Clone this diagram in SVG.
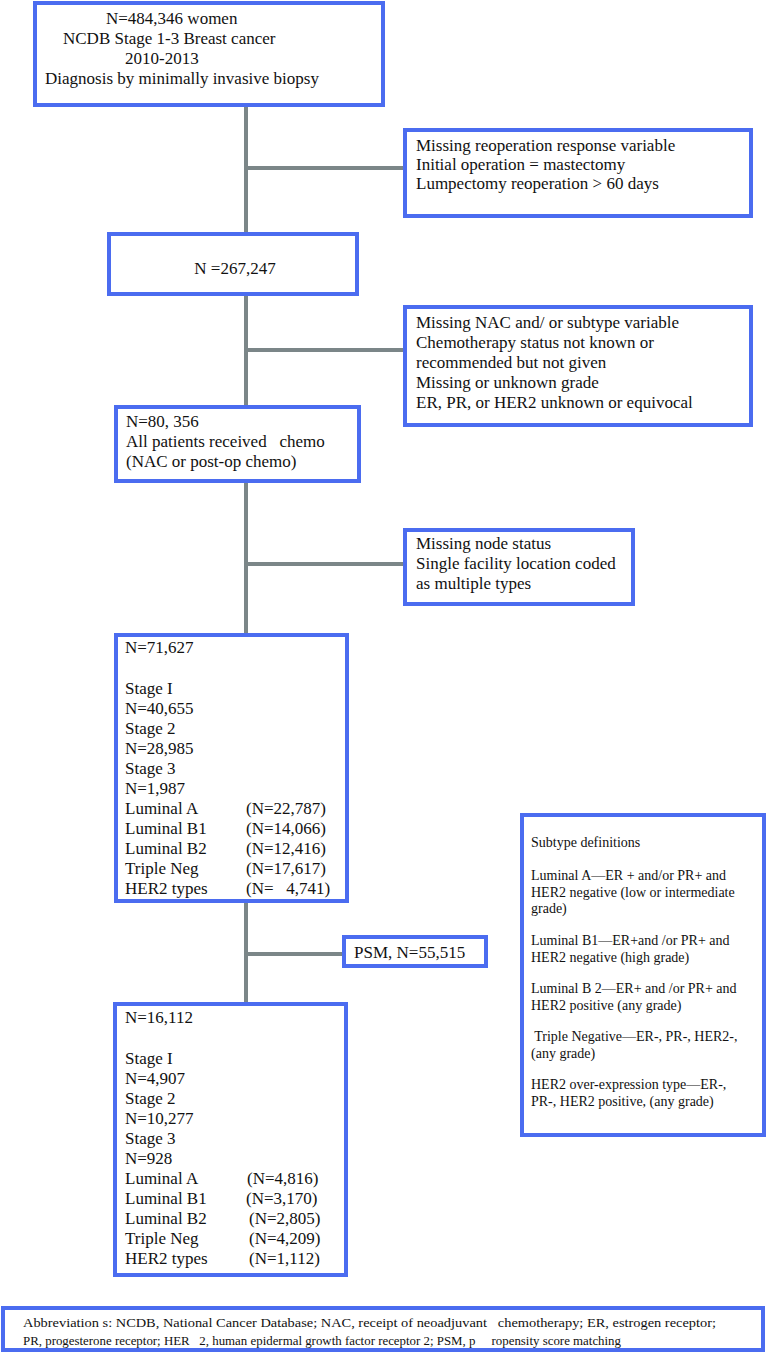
<svg xmlns="http://www.w3.org/2000/svg" width="769" height="1359" viewBox="0 0 769 1359">
<style>
.box{fill:#fff;stroke:#4b6cf0;stroke-width:4}
.con{stroke:#7b8688;stroke-width:4;fill:none}
text{font-family:"Liberation Serif","Times New Roman",serif;fill:#111}
.t{font-size:17px}
.s{font-size:14px}
.a{font-size:13px}
</style>
<rect width="769" height="1359" fill="#fff"/>
<g id="connectors">
<line class="con" x1="246" y1="107" x2="246" y2="232"/>
<line class="con" x1="246" y1="168" x2="403" y2="168"/>
<line class="con" x1="246" y1="296" x2="246" y2="405"/>
<line class="con" x1="246" y1="350" x2="403" y2="350"/>
<line class="con" x1="246" y1="483" x2="246" y2="633"/>
<line class="con" x1="246" y1="564" x2="403" y2="564"/>
<line class="con" x1="246" y1="903" x2="246" y2="1002"/>
<line class="con" x1="246" y1="954" x2="342" y2="954"/>
</g>
<g id="n1">
<rect class="box" x="35" y="3" width="348" height="102"/>
<text class="t" x="106" y="24">N=484,346 women</text>
<text class="t" x="63" y="44">NCDB Stage 1-3 Breast cancer</text>
<text class="t" x="125" y="64">2010-2013</text>
<text class="t" x="45" y="84">Diagnosis  by minimally invasive biopsy</text>
</g>
<g id="n2">
<rect class="box" x="405" y="130" width="346" height="86"/>
<text class="t" x="416" y="151">Missing reoperation response variable</text>
<text class="t" x="416" y="170">Initial operation = mastectomy</text>
<text class="t" x="416" y="189">Lumpectomy reoperation &gt; 60 days</text>
</g>
<g id="n3">
<rect class="box" x="109" y="234" width="248" height="60"/>
<text class="t" x="235" y="274" text-anchor="middle">N =267,247</text>
</g>
<g id="n4">
<rect class="box" x="405" y="307" width="346" height="118"/>
<text class="t" x="416" y="328">Missing NAC and/ or subtype variable</text>
<text class="t" x="416" y="348">Chemotherapy status not known or</text>
<text class="t" x="416" y="368">recommended but not given</text>
<text class="t" x="416" y="388">Missing or unknown grade</text>
<text class="t" x="416" y="408">ER, PR, or HER2 unknown or equivocal</text>
</g>
<g id="n5">
<rect class="box" x="116" y="407" width="243" height="74"/>
<text class="t" x="126" y="427">N=80, 356</text>
<text class="t" x="126" y="447" xml:space="preserve">All patients received   chemo</text>
<text class="t" x="126" y="467">(NAC or post-op chemo)</text>
</g>
<g id="n6">
<rect class="box" x="405" y="530" width="228" height="74"/>
<text class="t" x="416" y="549">Missing node status</text>
<text class="t" x="416" y="569">Single facility location coded</text>
<text class="t" x="416" y="589">as multiple types</text>
</g>
<g id="n7">
<rect class="box" x="116" y="635" width="231" height="266"/>
<text class="t" x="125" y="653">N=71,627</text>
<text class="t" x="125" y="694">Stage I</text>
<text class="t" x="125" y="714">N=40,655</text>
<text class="t" x="125" y="734">Stage 2</text>
<text class="t" x="125" y="754">N=28,985</text>
<text class="t" x="125" y="774">Stage 3</text>
<text class="t" x="125" y="794">N=1,987</text>
<text class="t" x="125" y="814">Luminal A</text>
<text class="t" x="125" y="834">Luminal B1</text>
<text class="t" x="125" y="854">Luminal B2</text>
<text class="t" x="125" y="874">Triple Neg</text>
<text class="t" x="125" y="894">HER2 types</text>
<text class="t" x="246" y="814">(N=22,787)</text>
<text class="t" x="246" y="834">(N=14,066)</text>
<text class="t" x="246" y="854">(N=12,416)</text>
<text class="t" x="246" y="874">(N=17,617)</text>
<text class="t" x="246" y="894" xml:space="preserve">(N=   4,741)</text>
</g>
<g id="psm">
<rect class="box" x="344" y="937" width="142" height="29"/>
<text class="t" x="354" y="958">PSM, N=55,515</text>
</g>
<g id="n8">
<rect class="box" x="115" y="1004" width="231" height="271"/>
<text class="t" x="125" y="1023">N=16,112</text>
<text class="t" x="125" y="1064">Stage I</text>
<text class="t" x="125" y="1084">N=4,907</text>
<text class="t" x="125" y="1104">Stage 2</text>
<text class="t" x="125" y="1124">N=10,277</text>
<text class="t" x="125" y="1144">Stage 3</text>
<text class="t" x="125" y="1164">N=928</text>
<text class="t" x="125" y="1184">Luminal A</text>
<text class="t" x="125" y="1204">Luminal B1</text>
<text class="t" x="125" y="1224">Luminal B2</text>
<text class="t" x="125" y="1244">Triple Neg</text>
<text class="t" x="125" y="1264">HER2 types</text>
<text class="t" x="247" y="1184">(N=4,816)</text>
<text class="t" x="246" y="1204">(N=3,170)</text>
<text class="t" x="249" y="1224">(N=2,805)</text>
<text class="t" x="249" y="1244">(N=4,209)</text>
<text class="t" x="249" y="1264">(N=1,112)</text>
</g>
<g id="subtypes">
<rect class="box" x="522" y="815" width="242" height="320"/>
<text class="s" x="531" y="847">Subtype definitions</text>
<text class="s" x="531" y="880">Luminal A—ER + and/or PR+ and</text>
<text class="s" x="531" y="897">HER2 negative (low or intermediate</text>
<text class="s" x="531" y="913">grade)</text>
<text class="s" x="531" y="945">Luminal B1—ER+and /or PR+ and</text>
<text class="s" x="531" y="962">HER2 negative (high grade)</text>
<text class="s" x="531" y="993">Luminal B 2—ER+ and /or PR+ and</text>
<text class="s" x="531" y="1010">HER2 positive (any grade)</text>
<text class="s" x="531" y="1041" xml:space="preserve"> Triple Negative—ER-, PR-, HER2-,</text>
<text class="s" x="531" y="1058">(any grade)</text>
<text class="s" x="531" y="1089">HER2 over-expression type—ER-,</text>
<text class="s" x="531" y="1106">PR-, HER2 positive, (any grade)</text>
</g>
<g id="abbrev">
<rect class="box" x="3" y="1308" width="760" height="42"/>
<text class="a" x="23" y="1327" xml:space="preserve" textLength="693" lengthAdjust="spacingAndGlyphs">Abbreviation s: NCDB, National Cancer Database; NAC, receipt of neoadjuvant   chemotherapy; ER, estrogen receptor;</text>
<text class="a" x="23" y="1345" xml:space="preserve" textLength="598" lengthAdjust="spacingAndGlyphs">PR, progesterone receptor; HER   2, human epidermal growth factor receptor 2; PSM, p     ropensity score matching</text>
</g>
</svg>
